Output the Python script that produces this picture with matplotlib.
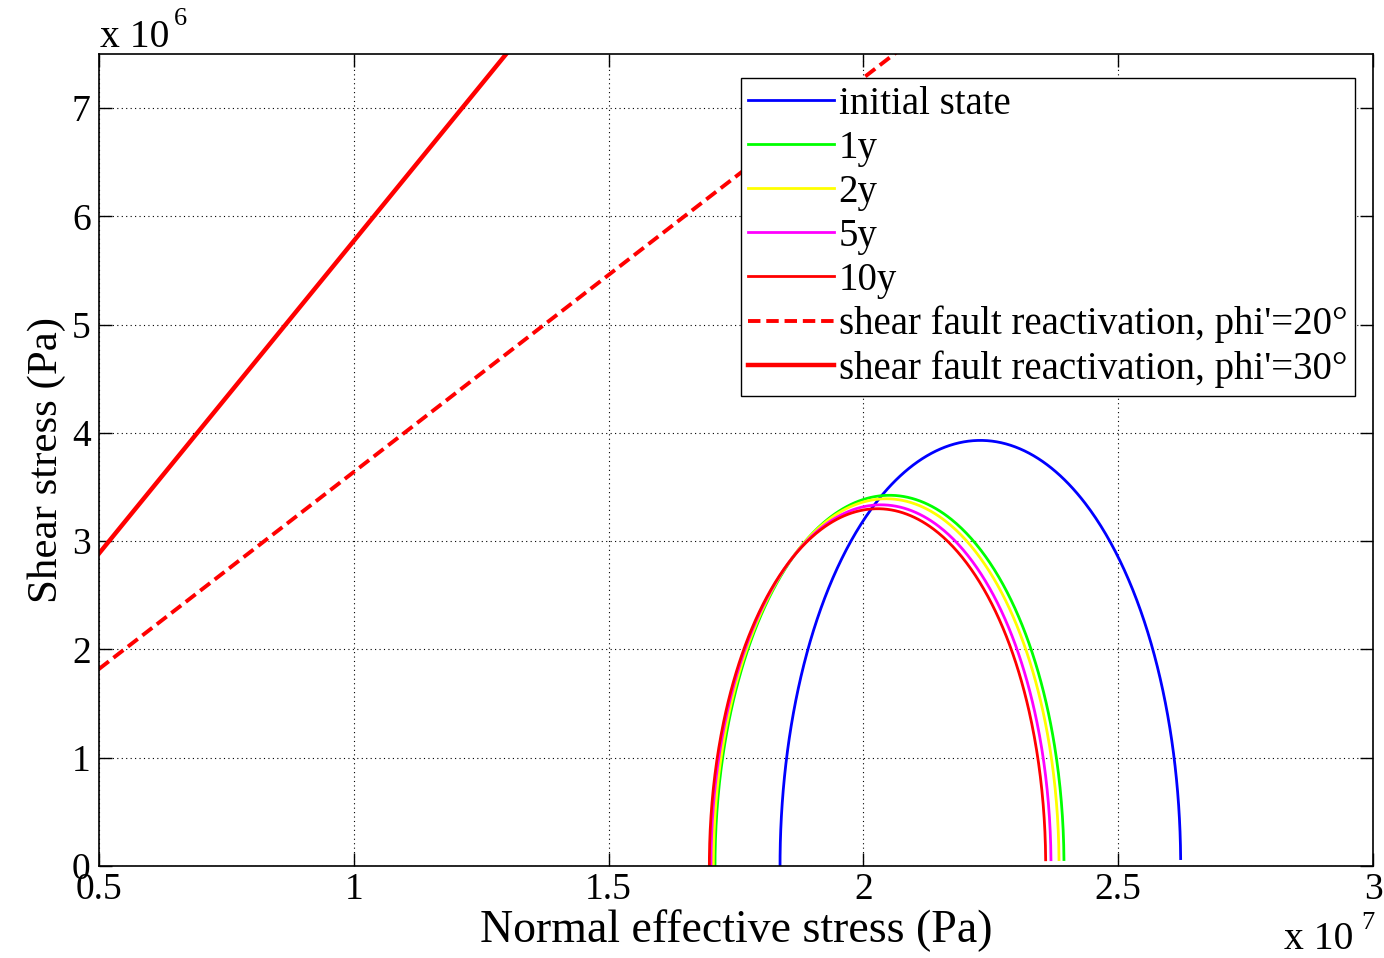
import numpy as np
import matplotlib
matplotlib.use("Agg")
import matplotlib.pyplot as plt
from matplotlib.ticker import FixedLocator, FuncFormatter

# ---- data ----
states = ["initial state", "1y", "2y", "5y", "10y"]
centers = [2.2295e7, 2.0512e7, 2.0447e7, 2.0345e7, 2.0277e7]   # Pa
radii = [0.3931e7, 0.3424e7, 0.3392e7, 0.3336e7, 0.3300e7]     # Pa
colors = ["#0000ff", "#00ff00", "#ffff00", "#ff00ff", "#ff0000"]
friction_angles = [20, 30]  # degrees
fault_labels = ["shear fault reactivation, phi'=20°", "shear fault reactivation, phi'=30°"]
fault_styles = ["--", "-"]
xticks = [0.5e7, 1.0e7, 1.5e7, 2.0e7, 2.5e7, 3.0e7]
yticks = [0, 1e6, 2e6, 3e6, 4e6, 5e6, 6e6, 7e6]
xlim = (0.5e7, 3.0e7)
ylim = (0, 7.5e6)

plt.rcParams['font.family'] = ['Liberation Serif', 'DejaVu Serif']

fig = plt.figure(figsize=(13.84, 9.58), dpi=100)
ax = fig.add_axes([99/1384, 1-866/958, (1373-99)/1384, (866-54)/958])

theta = np.deg2rad(np.linspace(1, 180, 400))
for name, c, r, col in zip(states, centers, radii, colors):
    ax.plot(c + r*np.cos(theta), r*np.sin(theta), color=col, lw=2, label=name)

sig = np.array(xlim)
for phi, lab, ls in zip(friction_angles, fault_labels, fault_styles):
    if ls == "--":
        ax.plot(sig, sig*np.tan(np.deg2rad(phi)), color="#ff0000", lw=2.8,
                label=lab, dashes=(3.2, 1.5))
    else:
        ax.plot(sig, sig*np.tan(np.deg2rad(phi)), color="#ff0000", lw=3.2,
                label=lab)

ax.set_xlim(*xlim)
ax.set_ylim(*ylim)
ax.xaxis.set_major_locator(FixedLocator(xticks))
ax.yaxis.set_major_locator(FixedLocator(yticks))
ax.xaxis.set_major_formatter(FuncFormatter(lambda v, p: f"{v/1e7:g}"))
ax.yaxis.set_major_formatter(FuncFormatter(lambda v, p: f"{v/1e6:g}"))
ax.tick_params(direction="in", length=9.5, width=1, top=True, right=True,
               labelsize=27)
ax.tick_params(axis="x", pad=5)
ax.tick_params(axis="y", pad=6)
ax.grid(True, color="black", linestyle=(0, (1, 3)), linewidth=0.8)
for s in ax.spines.values():
    s.set_linewidth(1.2)

ax.set_xlabel("Normal effective stress (Pa)", fontsize=33, labelpad=1)
ax.set_ylabel("Shear stress (Pa)", fontsize=31, labelpad=4)

# exponent labels
fig.text(100/1384, 1-47/958, "x 10", fontsize=28.5, ha="left", va="baseline")
fig.text(174/1384, 1-25/958, "6", fontsize=19, ha="left", va="baseline")
fig.text(1284/1384, 1-949/958, "x 10", fontsize=28.5, ha="left", va="baseline")
fig.text(1361/1384, 1-929/958, "7", fontsize=19, ha="left", va="baseline")

leg = ax.legend(loc="upper right", bbox_to_anchor=(1355/1384, 1-78/958),
                bbox_transform=fig.transFigure, fontsize=28, frameon=True,
                fancybox=False, edgecolor="black", framealpha=1,
                handlelength=2.2, handletextpad=0.12, labelspacing=0.18,
                borderpad=0.2, borderaxespad=0)
leg.get_frame().set_linewidth(1.0)

fig.savefig("out.png", dpi=100, facecolor="white")
